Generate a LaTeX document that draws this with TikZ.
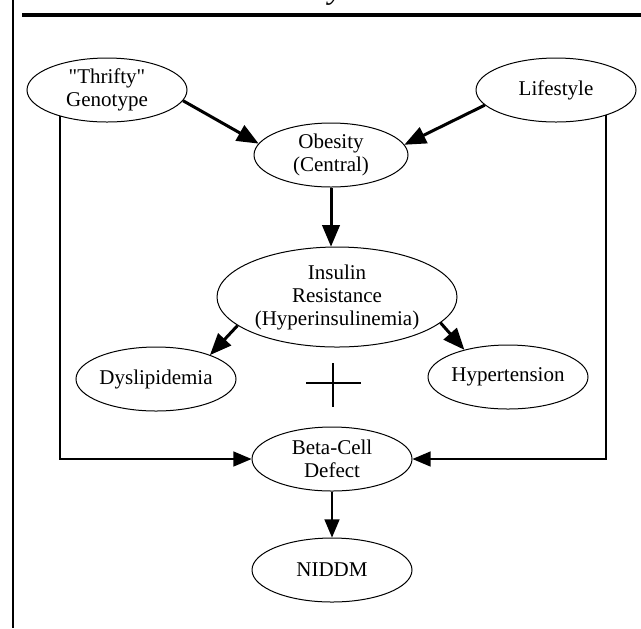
\documentclass[tikz,border=0pt]{standalone}
\usepackage{fontspec}
\setmainfont{Liberation Serif}
\usetikzlibrary{arrows}
\usetikzlibrary{shapes.geometric}
\tikzset{oval/.style={ellipse, draw, line width=0.5pt, minimum width=80pt, minimum height=32pt, inner sep=0pt, align=center, font=\fontsize{10.5}{11.5}\selectfont}}
\tikzset{link/.style={->, >=triangle 45, line width=1.5pt}}
\tikzset{side/.style={->, >=triangle 45, line width=1.1pt}}

\begin{document}
\begin{tikzpicture}[x=0.5pt, y=-0.5pt]
\useasboundingbox (0,0) rectangle (641,628);
\coordinate (FT) at (13,0); \coordinate (FB) at (13,628);
\coordinate (RL) at (22,15); \coordinate (RR) at (641,15);
\draw[line width=1.3pt] (FT) -- (FB); \draw[line width=1.8pt] (RL) -- (RR);
\node (TT) at (336,-2) [anchor=base, inner sep=0pt, font=\itshape\fontsize{16}{16}\selectfont] {y};

\node[oval] (TG) at (107,90) {\textquotedbl Thrifty\textquotedbl\\Genotype};
\node[oval] (LS) at (556,90) {Lifestyle};
\node[oval, minimum width=77pt] (OB) at (331,155) {Obesity\\(Central)};
\node[oval, minimum width=120pt, minimum height=50pt] (IR) at (337,297) {Insulin\\Resistance\\(Hyperinsulinemia)};
\node[oval] (DL) at (156,379) {Dyslipidemia};
\node[oval] (HT) at (508,377) {Hypertension};
\node[oval] (BC) at (332,459) {Beta-Cell\\Defect};
\node[oval] (ND) at (332,570) {NIDDM};

\coordinate (PL) at (306,383); \coordinate (PR) at (361,383);
\coordinate (PT) at (333,363); \coordinate (PB) at (333,407);
\draw[line width=1.2pt] (PL) -- (PR); \draw[line width=1.2pt] (PT) -- (PB);

\draw[link] (TG.-8) -- (OB.171);
\draw[link] (LS.192) -- (OB.8);
\draw[link] (OB.south) -- (OB.south |- IR.north);
\draw[link] (IR.196) -- (DL.24);
\draw[link] (IR.-14) -- (HT.148);
\draw[side] (TG.209) |- (BC.west);
\draw[side] (LS.-27) |- (BC.east);
\draw[side] (BC.south) -- (ND.north);
\end{tikzpicture}
\end{document}
